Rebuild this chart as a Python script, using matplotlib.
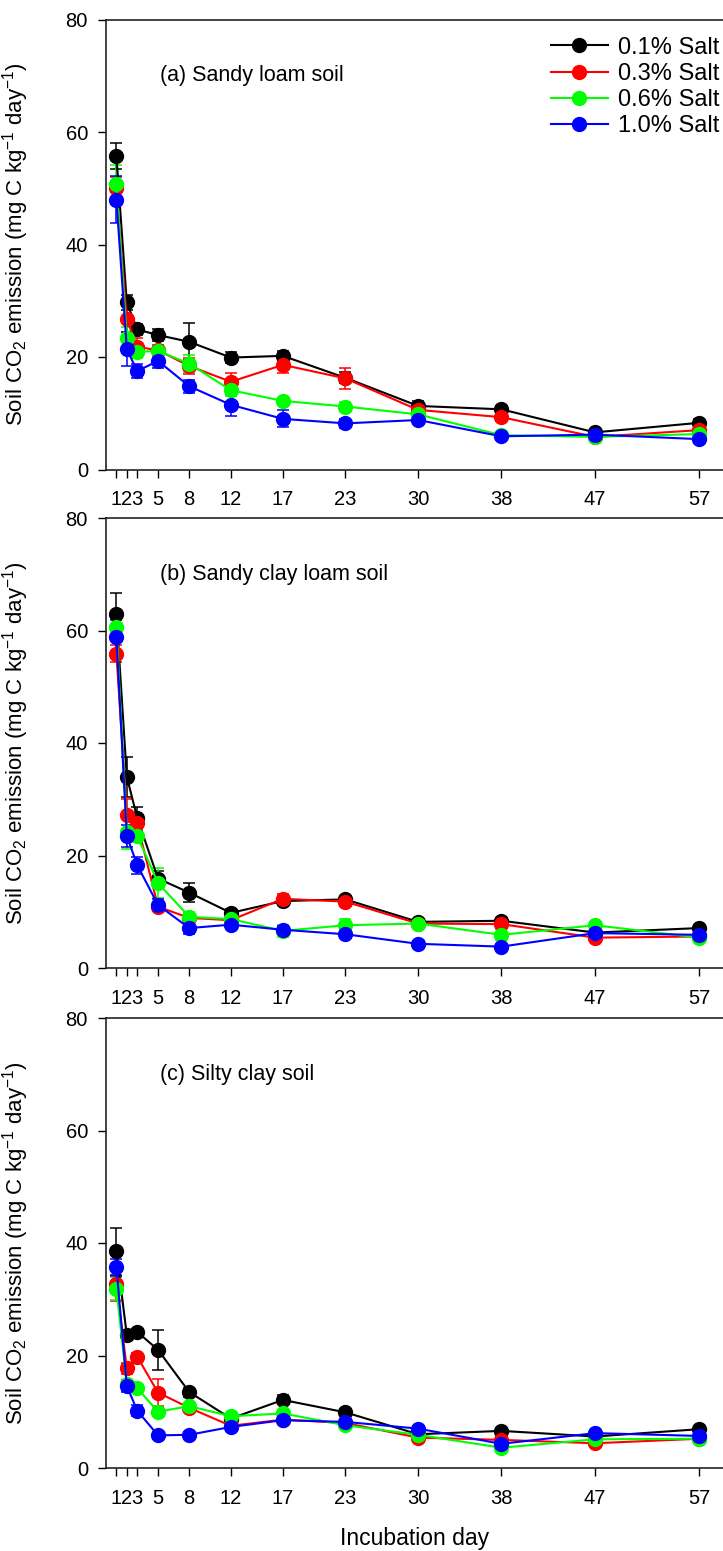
import matplotlib
matplotlib.use("Agg")
import matplotlib.pyplot as plt
from matplotlib.lines import Line2D
import numpy as np

plt.rcParams['font.family'] = ['Liberation Sans', 'DejaVu Sans']
plt.rcParams['mathtext.fontset'] = 'custom'
plt.rcParams['mathtext.rm'] = 'Liberation Sans'
plt.rcParams['mathtext.it'] = 'Liberation Sans:italic'
plt.rcParams['mathtext.bf'] = 'Liberation Sans:bold'

days = [1, 2, 3, 5, 8, 12, 17, 23, 30, 38, 47, 57]
series_labels = ["0.1% Salt", "0.3% Salt", "0.6% Salt", "1.0% Salt"]
series_colors = ["#000000", "#FF0000", "#00FF00", "#0000FF"]
panel_titles = ["(a) Sandy loam soil", "(b) Sandy clay loam soil", "(c) Silty clay soil"]
yticks = [0, 20, 40, 60, 80]

# Panel (a) Sandy loam soil
a_black = [55.7, 29.7, 24.9, 23.9, 22.7, 19.9, 20.2, 16.3, 11.3, 10.7, 6.6, 8.3]
a_red   = [50.0, 26.7, 21.8, 21.2, 18.4, 15.6, 18.6, 16.2, 10.6, 9.3, 5.8, 7.0]
a_green = [50.7, 23.3, 20.9, 21.1, 18.8, 14.1, 12.2, 11.2, 9.8, 6.1, 5.8, 6.3]
a_blue  = [48.0, 21.4, 17.5, 19.3, 14.8, 11.5, 9.0, 8.2, 8.8, 5.9, 6.2, 5.4]
a_black_err = [2.3, 1.3, 1.0, 1.0, 3.3, 1.0, 0.8, 1.0, 0.8, 0.6, 0.5, 0.6]
a_red_err   = [2.0, 2.3, 1.5, 1.0, 1.5, 1.5, 1.5, 1.8, 0.6, 0.7, 0.4, 0.5]
a_green_err = [3.5, 2.0, 1.0, 0.8, 1.5, 1.0, 0.6, 0.8, 0.6, 0.5, 0.4, 0.5]
a_blue_err  = [4.2, 3.0, 1.3, 1.2, 1.2, 2.0, 1.5, 0.8, 0.6, 0.5, 0.4, 0.5]

# Panel (b) Sandy clay loam soil
b_black = [62.9, 34.0, 26.7, 15.9, 13.4, 9.8, 11.9, 12.2, 8.2, 8.4, 6.3, 7.1]
b_red   = [55.9, 27.2, 25.7, 10.9, 8.9, 8.5, 12.3, 11.8, 7.9, 7.8, 5.4, 5.6]
b_green = [60.7, 24.2, 23.5, 15.1, 9.1, 8.7, 6.6, 7.6, 7.9, 5.9, 7.6, 5.4]
b_blue  = [58.9, 23.5, 18.3, 11.2, 7.1, 7.7, 6.8, 6.0, 4.3, 3.8, 6.2, 5.9]
b_black_err = [3.8, 3.6, 1.9, 1.3, 1.7, 0.7, 0.6, 0.6, 0.6, 0.5, 0.5, 0.5]
b_red_err   = [1.5, 2.8, 1.5, 0.7, 0.8, 0.6, 0.8, 0.6, 0.7, 0.6, 0.5, 0.4]
b_green_err = [2.6, 3.0, 1.0, 2.6, 0.8, 0.6, 1.0, 1.2, 0.6, 1.0, 0.5, 0.5]
b_blue_err  = [3.0, 2.0, 1.5, 1.0, 1.0, 0.6, 0.6, 0.5, 0.5, 0.5, 0.5, 0.5]

# Panel (c) Silty clay soil
c_black = [38.5, 23.6, 24.2, 21.0, 13.5, 8.8, 12.1, 9.9, 6.0, 6.6, 5.6, 6.9]
c_red   = [32.7, 17.7, 19.8, 13.4, 10.7, 7.5, 8.6, 8.0, 5.4, 5.0, 4.4, 5.2]
c_green = [31.9, 14.9, 14.2, 10.0, 11.0, 9.2, 9.7, 7.6, 5.9, 3.6, 5.1, 5.2]
c_blue  = [35.7, 14.6, 10.2, 5.8, 5.9, 7.3, 8.5, 8.2, 7.0, 4.3, 6.2, 5.7]
c_black_err = [4.1, 0.8, 0.6, 3.5, 0.8, 0.5, 0.8, 0.6, 0.5, 0.5, 0.5, 0.5]
c_red_err   = [3.0, 1.0, 0.6, 2.4, 0.6, 0.6, 0.5, 0.5, 0.6, 0.5, 0.5, 0.5]
c_green_err = [2.0, 0.6, 0.6, 0.6, 0.6, 0.5, 0.5, 0.5, 0.5, 0.5, 0.5, 0.5]
c_blue_err  = [1.5, 1.0, 1.0, 0.5, 0.5, 0.5, 0.5, 0.5, 0.5, 0.5, 0.5, 0.5]

panels = [
    ([a_black, a_red, a_green, a_blue], [a_black_err, a_red_err, a_green_err, a_blue_err]),
    ([b_black, b_red, b_green, b_blue], [b_black_err, b_red_err, b_green_err, b_blue_err]),
    ([c_black, c_red, c_green, c_blue], [c_black_err, c_red_err, c_green_err, c_blue_err]),
]

W, H = 723, 1551
fig = plt.figure(figsize=(W / 100, H / 100), dpi=100)

left_px = 106
ax_h_px = 450
bottoms_px = [469.5, 968, 1468]

ylabel = "Soil CO$_2$ emission (mg C kg$^{-1}$ day$^{-1}$)"

for i, ((vals, errs), title) in enumerate(zip(panels, panel_titles)):
    ax = fig.add_axes([left_px / W, 1 - bottoms_px[i] / H, (W - left_px) / W, ax_h_px / H])
    for v, e, col, lab in zip(vals, errs, series_colors, series_labels):
        ax.errorbar(days, v, yerr=e, color=col, ecolor=col, marker='o',
                    markersize=10, linewidth=1.5, elinewidth=1.1,
                    capsize=4.5, capthick=1.1, label=lab)
    ax.set_xlim(0, 59.3)
    ax.set_ylim(0, 80)
    ax.set_xticks(days)
    ax.set_xticklabels([str(d) for d in days])
    ax.set_yticks(yticks)
    ax.spines['right'].set_visible(False)
    for s in ['left', 'bottom', 'top']:
        ax.spines[s].set_linewidth(1.2)
        ax.spines[s].set_color('#222222')
    ax.tick_params(axis='both', direction='out', length=6, width=1.0,
                   labelsize=14.5, top=False, right=False)
    ax.tick_params(axis='x', pad=9)
    ax.tick_params(axis='y', pad=7)
    ax.set_ylabel(ylabel, fontsize=16)
    ax.yaxis.set_label_coords(-0.122, 0.5)
    ax.text(5.2, 70, title, fontsize=15.5, ha='left', va='center')
    if i == 0:
        handles = [Line2D([0], [0], color=c, marker='o', markersize=10, linewidth=1.5)
                   for c in series_colors]
        ax.legend(handles=handles, labels=series_labels, loc='upper right',
                  bbox_to_anchor=(0.995, 0.962),
                  frameon=False, fontsize=17, handlelength=2.4,
                  handletextpad=0.45, labelspacing=0.18, borderpad=0,
                  borderaxespad=0)
    if i == 2:
        ax.set_xlabel("Incubation day", fontsize=16.5, labelpad=14)

fig.savefig("out.png", dpi=100)
